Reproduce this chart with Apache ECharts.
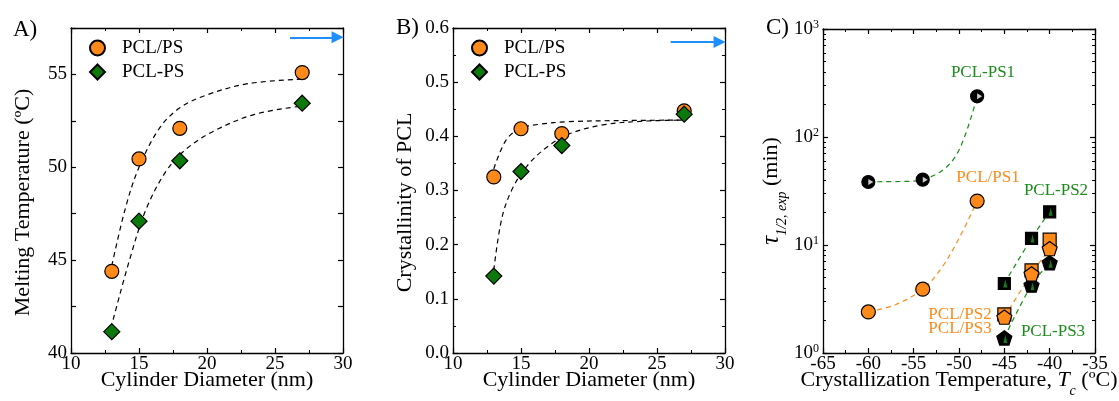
<!DOCTYPE html>
<html>
<head>
<meta charset="utf-8">
<script src="https://cdn.jsdelivr.net/npm/echarts@6/dist/echarts.min.js"></script>
<style>
  html, body { margin: 0; padding: 0; background: #fff; }
  #chart { width: 1119px; height: 401px; }
</style>
</head>
<body>
<div id="chart"></div>
<script>
// A) / B): cylinder diameter (nm)
const diameter = [13, 15, 18, 27]
const tmBlend = [44.4, 50.45, 52.1, 55.1]      // PCL/PS melting temperature
const tmBlock = [41.15, 47.1, 50.35, 53.45]    // PCL-PS
const xcBlend = [0.325, 0.414, 0.405, 0.447]   // PCL/PS crystallinity
const xcBlock = [0.142, 0.335, 0.383, 0.441]   // PCL-PS

// dashed guide curves
const fitTmBlendX = [13, 14, 15, 16.5, 18, 20, 23, 27]
const fitTmBlendY = [44.7, 47.8, 50.0, 52.1, 53.2, 53.9, 54.5, 54.75]
const fitTmBlockX = [13.1, 14.3, 15.5, 17, 18.5, 20.5, 23.5, 27]
const fitTmBlockY = [41.8, 45.0, 47.7, 49.8, 51.0, 51.95, 52.85, 53.3]
const fitXcBlendX = [13, 13.9, 14.9, 16.3, 18.5, 22, 27]
const fitXcBlendY = [0.34, 0.393, 0.414, 0.422, 0.427, 0.429, 0.43]
const fitXcBlockX = [13, 13.6, 14.4, 15.5, 16.9, 18.5, 21, 24, 27]
const fitXcBlockY = [0.153, 0.25, 0.305, 0.347, 0.38, 0.404, 0.421, 0.428, 0.43]

// C): crystallization temperature (ºC) vs half time (min)
const tcPS1 = [-60, -54, -48]
const tauBlockPS1 = [38.3, 40.3, 238]
const tauBlendPS1 = [2.4, 3.9, 25.5]
const tcPS23 = [-45, -42, -40]
const tauBlockPS2 = [4.4, 11.5, 20.3]
const tauBlendPS2 = [2.28, 5.83, 11.2]
const tauBlendPS3 = [2.15, 5.4, 9.26]
const tauBlockPS3 = [1.38, 4.25, 6.85]
const fitBlockPS1X = [-60, -56, -54, -52, -50.5, -49.3, -48]
const fitBlockPS1Y = [38.5, 38.8, 40.3, 48, 64, 105, 235]
const fitBlendPS1X = [-60, -57, -54, -52, -50, -48]
const fitBlendPS1Y = [2.4, 2.8, 3.9, 6.0, 11.5, 25.5]

const legendNames = ['PCL/PS', 'PCL-PS']
const panelLabels = ['A)', 'B)', 'C)']

const FONT = 'Liberation Serif'
const ORANGE = '#FF8A1A'
const GREEN = '#0B7A0B'
const TEXT_GREEN = '#1A8C1A'
const BLUE = '#1E8FFF'
const PENTAGON = 'path://M10,0 L19.51,6.91 L15.88,18.09 L4.12,18.09 L0.49,6.91 Z'

const pts = (xs, ys) => xs.map((x, i) => [x, ys[i]])

function axis(gridIndex, position, cfg, mirror) {
  const a = {
    gridIndex: gridIndex,
    position: position,
    type: cfg.type || 'value',
    min: cfg.min,
    max: cfg.max,
    axisLine: { show: true, onZero: false, lineStyle: { color: '#000', width: 1.3 } },
    axisTick: { show: true, inside: true, length: 5, lineStyle: { color: '#000', width: 1.2 } },
    minorTick: { show: !!cfg.minor, splitNumber: cfg.minor || 5, length: 3, lineStyle: { color: '#000', width: 1 } },
    splitLine: { show: false },
    axisLabel: { show: false }
  }
  if (cfg.interval) a.interval = cfg.interval
  if (cfg.logBase) a.logBase = cfg.logBase
  if (!mirror) {
    a.axisLabel = {
      show: true,
      margin: cfg.margin,
      color: '#000',
      fontFamily: FONT,
      fontSize: 19,
      formatter: cfg.formatter,
      rich: cfg.rich
    }
    a.name = cfg.name
    a.nameLocation = 'middle'
    a.nameGap = cfg.nameGap
    a.nameMoveOverlap = false
    a.nameTextStyle = Object.assign({ color: '#000', fontFamily: FONT, fontSize: 22 }, cfg.nameStyle || {})
  }
  return a
}

const xA = { min: 10, max: 30, interval: 5, minor: 2, margin: 2, name: 'Cylinder Diameter (nm)', nameGap: 16 }
const yA = {
  min: 40, max: 57.5, interval: 2.5, margin: 4, name: 'Melting Temperature (ºC)', nameGap: 37,
  nameStyle: { padding: [0, 24, 0, 0] },
  formatter: v => (v % 5 === 0 ? String(v) : '')
}
const yB = {
  min: 0, max: 0.6, interval: 0.1, minor: 2, margin: 4, name: 'Crystallinity of PCL', nameGap: 37,
  nameStyle: { padding: [0, 24, 0, 0] },
  formatter: v => v.toFixed(1)
}
const xC = {
  min: -65, max: -35, interval: 5, minor: 2, margin: 2, nameGap: 15,
  name: '{n|Crystallization Temperature, }{i|T}{sub|c}{n| (ºC)}',
  nameStyle: {
    rich: {
      n: { fontFamily: FONT, fontSize: 22, color: '#000', lineHeight: 24 },
      i: { fontFamily: FONT, fontSize: 22, fontStyle: 'italic', color: '#000', lineHeight: 24 },
      sub: { fontFamily: FONT, fontSize: 14, fontStyle: 'italic', color: '#000', verticalAlign: 'bottom', padding: [0, 0, -6, 0] }
    }
  }
}
const yC = {
  type: 'log', logBase: 10, min: 1, max: 1000, minor: 9, margin: 4, nameGap: 38,
  name: '{t|τ}{sub|1/2, exp}{n| (min)}',
  formatter: v => '{b|10}{s|' + Math.round(Math.log10(v)) + '}',
  rich: {
    b: { fontFamily: FONT, fontSize: 19, color: '#000' },
    s: { fontFamily: FONT, fontSize: 12, color: '#000', verticalAlign: 'top', padding: [0, 0, 8, 0] }
  },
  nameStyle: {
    rich: {
      t: { fontFamily: FONT, fontSize: 25, fontStyle: 'italic', color: '#000', lineHeight: 28 },
      sub: { fontFamily: FONT, fontSize: 14, fontStyle: 'italic', color: '#000', verticalAlign: 'bottom', padding: [0, 0, -4, 0] },
      n: { fontFamily: FONT, fontSize: 22, color: '#000', lineHeight: 28 }
    }
  }
}

function dashed(xi, yi, data, color) {
  return {
    type: 'line', xAxisIndex: xi, yAxisIndex: yi, data: data,
    smooth: 0.35, symbol: 'none', silent: true, z: 1,
    lineStyle: { color: color, width: 1.2, type: [5, 4] }
  }
}

function dots(name, xi, yi, data, symbol, size, color, extra) {
  return Object.assign({
    name: name, type: 'scatter', xAxisIndex: xi, yAxisIndex: yi, data: data,
    symbol: symbol, symbolSize: size, z: 3,
    itemStyle: { color: color, borderColor: '#000', borderWidth: 1.2, opacity: 1 }
  }, extra || {})
}

function arrow(xi, yi, from, to) {
  return {
    type: 'line', xAxisIndex: xi, yAxisIndex: yi, data: [], silent: true,
    markLine: {
      silent: true, symbol: ['none', 'triangle'], symbolSize: 12,
      label: { show: false },
      lineStyle: { color: BLUE, width: 2, type: 'solid' },
      data: [[{ coord: from }, { coord: to }]]
    }
  }
}

function tag(text, x, y, color) {
  return {
    type: 'text', x: x, y: y,
    style: { text: text, fill: color, font: '17px ' + FONT, align: 'center', verticalAlign: 'middle', textAlign: 'center', textVerticalAlign: 'middle' }
  }
}

function panel(text, x, y) {
  return {
    type: 'text', x: x, y: y,
    style: { text: text, fill: '#000', font: '23px ' + FONT, verticalAlign: 'middle', textVerticalAlign: 'middle' }
  }
}

function legendAt(left) {
  return {
    data: legendNames, orient: 'vertical', left: left, top: 38, padding: 0,
    itemWidth: 15, itemHeight: 15, itemGap: 4,
    textStyle: { fontFamily: FONT, fontSize: 19, color: '#000', lineHeight: 20, padding: [0, 0, 0, 12] }
  }
}

const chart = echarts.init(document.getElementById('chart'))

chart.setOption({
  backgroundColor: '#fff',
  animation: false,
  grid: [
    { left: 71, top: 28, width: 272, height: 325, outerBoundsMode: 'none', containLabel: false },
    { left: 453, top: 28, width: 272, height: 325, outerBoundsMode: 'none', containLabel: false },
    { left: 823, top: 29, width: 272, height: 324, outerBoundsMode: 'none', containLabel: false }
  ],
  xAxis: [
    axis(0, 'bottom', xA), axis(0, 'top', xA, true),
    axis(1, 'bottom', xA), axis(1, 'top', xA, true),
    axis(2, 'bottom', xC), axis(2, 'top', xC, true)
  ],
  yAxis: [
    axis(0, 'left', yA), axis(0, 'right', yA, true),
    axis(1, 'left', yB), axis(1, 'right', yB, true),
    axis(2, 'left', yC), axis(2, 'right', yC, true)
  ],
  legend: [legendAt(89), legendAt(471)],
  graphic: [
    panel(panelLabels[0], 13, 30),
    panel(panelLabels[1], 396, 28),
    panel(panelLabels[2], 766, 28),
    tag('PCL-PS1', 983, 73, TEXT_GREEN),
    tag('PCL/PS1', 988, 178, ORANGE),
    tag('PCL-PS2', 1056, 191, TEXT_GREEN),
    tag('PCL/PS2', 960, 315, ORANGE),
    tag('PCL/PS3', 960, 329, ORANGE),
    tag('PCL-PS3', 1053, 332, TEXT_GREEN)
  ],
  series: [
    // A) melting temperature
    dashed(0, 0, pts(fitTmBlendX, fitTmBlendY), '#000'),
    dashed(0, 0, pts(fitTmBlockX, fitTmBlockY), '#000'),
    dots('PCL/PS', 0, 0, pts(diameter, tmBlend), 'circle', 14, ORANGE),
    dots('PCL-PS', 0, 0, pts(diameter, tmBlock), 'diamond', 16, GREEN),
    arrow(0, 0, [26.1, 57.0], [29.6, 57.0]),

    // B) crystallinity
    dashed(2, 2, pts(fitXcBlendX, fitXcBlendY), '#000'),
    dashed(2, 2, pts(fitXcBlockX, fitXcBlockY), '#000'),
    dots('PCL/PS', 2, 2, pts(diameter, xcBlend), 'circle', 14, ORANGE),
    dots('PCL-PS', 2, 2, pts(diameter, xcBlock), 'diamond', 16, GREEN),
    arrow(2, 2, [26.0, 0.574], [29.6, 0.574]),

    // C) half time of crystallization
    dashed(4, 4, pts(fitBlockPS1X, fitBlockPS1Y), TEXT_GREEN),
    dashed(4, 4, pts(fitBlendPS1X, fitBlendPS1Y), ORANGE),
    dashed(4, 4, pts(tcPS23, tauBlockPS2), TEXT_GREEN),
    dashed(4, 4, pts(tcPS23, tauBlendPS3), ORANGE),
    dashed(4, 4, pts(tcPS23, tauBlockPS3), TEXT_GREEN),
    dots('PCL-PS1', 4, 4, pts(tcPS1, tauBlockPS1), 'circle', 13, '#000'),
    dots('PCL-PS1 mark', 4, 4, pts(tcPS1, tauBlockPS1), 'triangle', [6, 5], '#fff',
      { symbolRotate: -90, symbolOffset: [2.5, 0], z: 4, itemStyle: { color: '#fff', borderWidth: 0 } }),
    dots('PCL/PS1', 4, 4, pts(tcPS1, tauBlendPS1), 'circle', 14, ORANGE),
    dots('PCL-PS2', 4, 4, pts(tcPS23, tauBlockPS2), 'rect', 12, '#000'),
    dots('PCL-PS2 mark', 4, 4, pts(tcPS23, tauBlockPS2), 'triangle', [4, 8], GREEN,
      { symbolOffset: [1, 0], z: 4, itemStyle: { color: '#1E9A1E', borderWidth: 0 } }),
    dots('PCL/PS2', 4, 4, pts(tcPS23, tauBlendPS2), 'rect', 13, ORANGE),
    dots('PCL-PS3', 4, 4, pts(tcPS23, tauBlockPS3), PENTAGON, 15, '#000', { symbolKeepAspect: true }),
    dots('PCL-PS3 mark', 4, 4, pts(tcPS23, tauBlockPS3), 'triangle', [4, 8], GREEN,
      { symbolOffset: [1, 1], z: 4, itemStyle: { color: '#1E9A1E', borderWidth: 0 } }),
    dots('PCL/PS3', 4, 4, pts(tcPS23, tauBlendPS3), PENTAGON, 15, ORANGE, { symbolKeepAspect: true, z: 5 })
  ]
})
</script>
</body>
</html>
